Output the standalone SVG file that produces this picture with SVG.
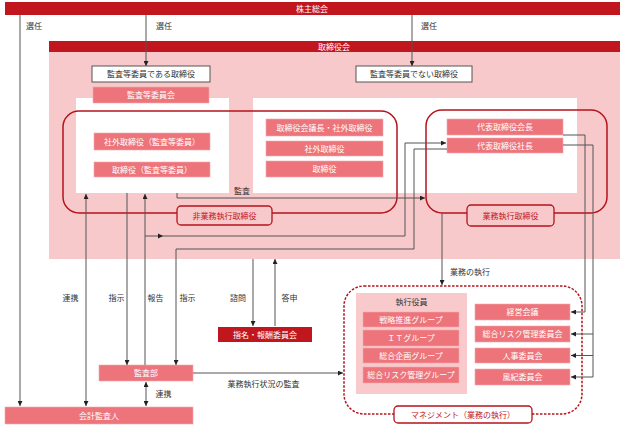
<svg xmlns="http://www.w3.org/2000/svg" width="624" height="429" viewBox="0 0 624 429">
<defs>
<style>
text{font-family:"Noto Sans CJK JP","Liberation Sans",sans-serif;font-size:8px;text-anchor:middle}
.wt{fill:#ffffff}
.dk{fill:#333333}
.rt{fill:#c1161e}
.bar{fill:#c1161e}
.box{fill:#ec747a;stroke:#f4a9ad;stroke-width:0.6}
.wbox{fill:#ffffff;stroke:#555555;stroke-width:1}
.grp{fill:none;stroke:#b5121b;stroke-width:1.5}
.lbl{fill:#f8c9cb;stroke:#b5121b;stroke-width:1.3}
.ln{fill:none;stroke:#555555;stroke-width:1}
</style>
<marker id="ah" viewBox="0 0 6 6" refX="6" refY="3" markerWidth="5" markerHeight="5" orient="auto-start-reverse">
<path d="M0,0 L6,3 L0,6 z" fill="#222222"/>
</marker>
</defs>

<g id="shareholders">
<rect x="5" y="2" width="615" height="13" class="bar"/>
<text x="312" y="12" class="wt">株主総会</text>
</g>

<g id="board">
<rect x="49" y="52" width="571" height="207" fill="#f8c9cb"/>
<rect x="49" y="41" width="571" height="11" class="bar"/>
<text x="334" y="50" class="wt">取締役会</text>
<rect x="76" y="98" width="153" height="95" fill="#ffffff"/>
<rect x="253" y="98" width="324" height="95" fill="#ffffff"/>
</g>

<g id="audit-directors">
<rect x="92" y="66" width="118" height="16" class="wbox"/>
<text x="151" y="77" class="dk">監査等委員である取締役</text>
</g>
<g id="non-audit-directors">
<rect x="356" y="66" width="116" height="16" class="wbox"/>
<text x="414" y="77" class="dk">監査等委員でない取締役</text>
</g>
<g id="audit-committee">
<rect x="93" y="87" width="116" height="16" class="box"/>
<text x="151" y="98" class="wt">監査等委員会</text>
</g>

<g id="non-executive">
<rect x="63" y="111" width="334" height="102" rx="16" class="grp"/>
<rect x="177" y="206" width="95" height="19" rx="4" class="lbl"/>
<text x="224.5" y="218.5" class="rt">非業務執行取締役</text>
</g>
<g id="outside-audit">
<rect x="94" y="133" width="116" height="17" class="box"/>
<text x="152" y="144.5" class="wt">社外取締役（監査等委員）</text>
</g>
<g id="director-audit">
<rect x="94" y="162" width="116" height="15" class="box"/>
<text x="152" y="172.5" class="wt">取締役（監査等委員）</text>
</g>
<g id="chairman-outside">
<rect x="266" y="119" width="117" height="17" class="box"/>
<text x="324.5" y="130.5" class="wt">取締役会議長・社外取締役</text>
</g>
<g id="outside-director">
<rect x="266" y="141" width="117" height="15" class="box"/>
<text x="324.5" y="151.5" class="wt">社外取締役</text>
</g>
<g id="director">
<rect x="266" y="161" width="117" height="16" class="box"/>
<text x="324.5" y="172" class="wt">取締役</text>
</g>

<g id="executive">
<rect x="426" y="110" width="181" height="103" rx="16" class="grp"/>
<rect x="467" y="205" width="87" height="21" rx="4" class="lbl"/>
<text x="510.5" y="218.5" class="rt">業務執行取締役</text>
</g>
<g id="rep-chairman">
<rect x="447" y="119" width="116" height="16" class="box"/>
<text x="505" y="130" class="wt">代表取締役会長</text>
</g>
<g id="rep-president">
<rect x="447" y="138" width="116" height="15" class="box"/>
<text x="505" y="148.5" class="wt">代表取締役社長</text>
</g>

<g id="nomination-committee">
<rect x="218" y="327" width="94" height="15" class="bar"/>
<text x="265" y="337.5" class="wt">指名・報酬委員会</text>
</g>
<g id="audit-dept">
<rect x="99" y="365" width="94" height="16" class="box"/>
<text x="146" y="376" class="wt">監査部</text>
</g>
<g id="accounting-auditor">
<rect x="5" y="407" width="188" height="17" class="box"/>
<text x="99" y="418.5" class="wt">会計監査人</text>
</g>

<g id="management">
<rect x="344" y="286" width="238" height="128" rx="20" fill="none" stroke="#b5121b" stroke-width="1.5" stroke-dasharray="2.5,1.5"/>
<rect x="394" y="406" width="138" height="17" rx="4" fill="#ffffff" stroke="#b5121b" stroke-width="1.3"/>
<text x="463" y="417.5" class="rt">マネジメント（業務の執行）</text>
</g>
<g id="officers">
<rect x="356" y="293" width="111" height="101" fill="#f8cacc"/>
<text x="411.5" y="305" class="dk">執行役員</text>
<rect x="363" y="312" width="96" height="15" class="box"/>
<text x="411" y="322.5" class="wt">戦略推進グループ</text>
<rect x="363" y="330" width="96" height="16" class="box"/>
<text x="411" y="341" class="wt">ＩＴグループ</text>
<rect x="363" y="348" width="96" height="15" class="box"/>
<text x="411" y="358.5" class="wt">総合企画グループ</text>
<rect x="363" y="367" width="96" height="16" class="box"/>
<text x="411" y="378" class="wt">総合リスク管理グループ</text>
</g>
<g id="mgmt-meeting">
<rect x="475" y="304" width="95" height="16" class="box"/>
<text x="522.5" y="315" class="wt">経営会議</text>
</g>
<g id="risk-committee">
<rect x="475" y="326" width="95" height="16" class="box"/>
<text x="522.5" y="337" class="wt">総合リスク管理委員会</text>
</g>
<g id="hr-committee">
<rect x="475" y="348" width="95" height="15" class="box"/>
<text x="522.5" y="358.5" class="wt">人事委員会</text>
</g>
<g id="discipline-committee">
<rect x="475" y="369" width="95" height="16" class="box"/>
<text x="522.5" y="380" class="wt">風紀委員会</text>
</g>

<g id="connectors">
<path d="M20,15 V406" class="ln" marker-end="url(#ah)"/>
<path d="M146,15 V66" class="ln" marker-end="url(#ah)"/>
<path d="M412,15 V66" class="ln" marker-end="url(#ah)"/>
<path d="M86,194 V406" class="ln" marker-start="url(#ah)" marker-end="url(#ah)"/>
<path d="M127,193 V365" class="ln" marker-end="url(#ah)"/>
<path d="M145,365 V194" class="ln" marker-end="url(#ah)"/>
<path d="M145,236 H405 V143 H446" class="ln" marker-end="url(#ah)"/>
<path d="M158,233.5 L163,236 L158,238.5 z" fill="#222222"/>
<path d="M447,149 H414 V249 H176 V365" class="ln" marker-end="url(#ah)"/>
<path d="M177,193 V198 H425" class="ln" marker-end="url(#ah)"/>
<path d="M442,213 V285" class="ln" marker-end="url(#ah)"/>
<path d="M563,135 H585 V312 H571" class="ln" marker-end="url(#ah)"/>
<path d="M563,145 H593 V377 H571" class="ln" marker-end="url(#ah)"/>
<path d="M593,334 H571" class="ln" marker-end="url(#ah)"/>
<path d="M593,355.5 H571" class="ln" marker-end="url(#ah)"/>
<path d="M193,373 H343" class="ln" marker-end="url(#ah)"/>
<path d="M146,382 V406" class="ln" marker-start="url(#ah)" marker-end="url(#ah)"/>
<path d="M253,259 V326" class="ln" marker-end="url(#ah)"/>
<path d="M275,326 V259" class="ln" marker-end="url(#ah)"/>
</g>

<g id="connector-labels">
<text x="34" y="29" class="dk">選任</text>
<text x="164" y="29" class="dk">選任</text>
<text x="429" y="29" class="dk">選任</text>
<text x="242" y="194" class="dk">監査</text>
<text x="70.5" y="301" class="dk">連携</text>
<text x="116.5" y="301" class="dk">指示</text>
<text x="155.5" y="301" class="dk">報告</text>
<text x="187.5" y="301" class="dk">指示</text>
<text x="238" y="301" class="dk">諮問</text>
<text x="289.5" y="301" class="dk">答申</text>
<text x="470" y="275" class="dk">業務の執行</text>
<text x="263.5" y="387" class="dk">業務執行状況の監査</text>
<text x="163.5" y="397" class="dk">連携</text>
</g>
</svg>
